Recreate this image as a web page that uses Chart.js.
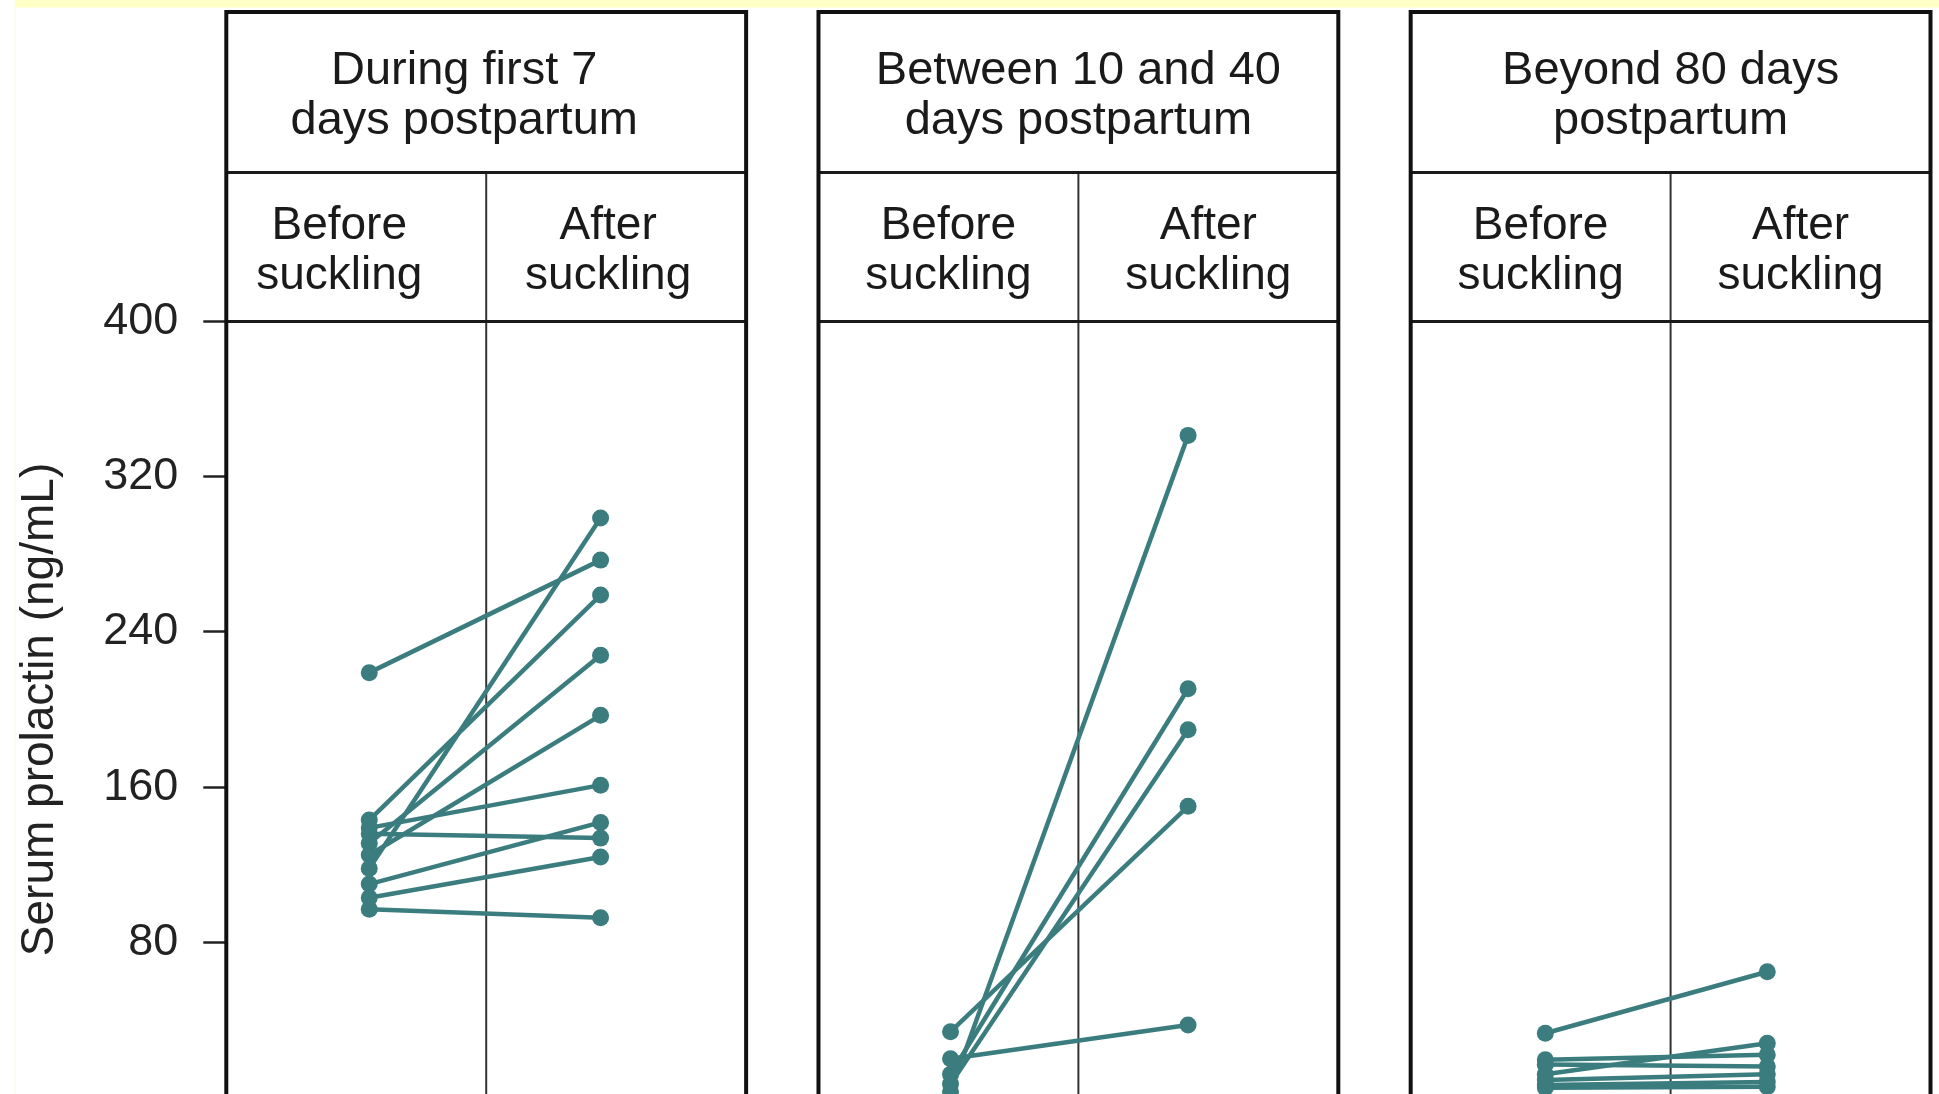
<!DOCTYPE html>
<html>
<head>
<meta charset="utf-8">
<title>Serum prolactin before and after suckling</title>
<script src="https://cdn.jsdelivr.net/npm/chart.js@4.4.1/dist/chart.umd.min.js"></script>
<style>
  html, body { margin: 0; padding: 0; background: #ffffff; overflow: hidden; }
  #wrap { position: relative; width: 1939px; height: 1152px; }
  canvas { display: block; }
</style>
</head>
<body>
<div id="wrap"><canvas id="chart" width="1939" height="1152"></canvas></div>
<script>
// ---- Data: serum prolactin (ng/mL), one pair per subject ----
const panelTitles = [
  ["During first 7", "days postpartum"],
  ["Between 10 and 40", "days postpartum"],
  ["Beyond 80 days", "postpartum"]
];
const columnLabels = [["Before", "suckling"], ["After", "suckling"]];
const yMin = 0;
const yTicks = [80, 160, 240, 320, 400];
const yTitle = "Serum prolactin (ng/mL)";

const first7Before  = [219, 118, 143, 131, 125, 139, 136, 110, 103, 97];
const first7After   = [277, 298.7, 259, 228, 197, 161, 133.7, 141.8, 124, 92.7];

const days10to40Before = [3, 12, 7, 33.9, 20];
const days10to40After  = [341.3, 210.7, 189.6, 150.1, 37.4];

const beyond80Before = [33.1, 19.5, 12, 17, 9, 6.5, 5];
const beyond80After  = [64.8, 22, 28, 16, 12, 8, 5.5];

// ---- Layout of the three panels on one linear x scale ----
// each panel is 1 unit wide; panels repeat every PERIOD units
const PERIOD = 1.1392;
const X_MAX = 2 * PERIOD + 1;
const BEFORE_X = [0.275, 0.254, 0.259];
const AFTER_X  = [0.720, 0.711, 0.686];
// small horizontal nudges (px) of the header text in each panel
const HEAD_SHIFT   = [-22, 0, 0];
const BEFORE_SHIFT = [-17, 0, 0];
const AFTER_SHIFT  = [-8, 0, 0];

const FAMILY = "'Liberation Sans', Arial, Helvetica, sans-serif";
const TEAL = '#3b7d7e';
const INK = '#1a1a1a';

const panels = [
  { before: first7Before, after: first7After },
  { before: days10to40Before, after: days10to40After },
  { before: beyond80Before, after: beyond80After }
];

const datasets = [];
panels.forEach((p, k) => {
  p.before.forEach((b, i) => {
    datasets.push({
      data: [
        { x: k * PERIOD + BEFORE_X[k], y: b },
        { x: k * PERIOD + AFTER_X[k], y: p.after[i] }
      ],
      borderColor: TEAL,
      backgroundColor: TEAL,
      pointBackgroundColor: TEAL,
      pointBorderColor: TEAL,
      borderWidth: 4.5,
      pointRadius: 8.5,
      pointBorderWidth: 0,
      showLine: true,
      tension: 0
    });
  });
});

// Frames, header boxes and header text for each panel
const panelFrames = {
  id: 'panelFrames',
  beforeDraw(chart) {
    const { ctx, width, height } = chart;
    ctx.save();
    ctx.fillStyle = '#ffffff';
    ctx.fillRect(0, 0, width, height);
    ctx.fillStyle = '#fffec4';
    ctx.fillRect(15, 0, width - 15, 7.5);
    ctx.fillStyle = '#fffbe0';
    ctx.fillRect(14.5, 0, 1.5, height);
    ctx.restore();
  },
  beforeDatasetsDraw(chart) {
    const { ctx, scales } = chart;
    const xs = scales.x, ys = scales.y;
    const yTop = 12;
    const yHead = 172.5;
    const yAxisTop = ys.getPixelForValue(ys.max);
    const yBottom = chart.height;
    ctx.save();
    for (let k = 0; k < 3; k++) {
      const x0 = xs.getPixelForValue(k * PERIOD);
      const x1 = xs.getPixelForValue(k * PERIOD + 1);
      const xm = xs.getPixelForValue(k * PERIOD + 0.5);

      // middle divider between "before" and "after"
      ctx.strokeStyle = '#333333';
      ctx.lineWidth = 2;
      ctx.beginPath();
      ctx.moveTo(xm, yHead);
      ctx.lineTo(xm, yBottom);
      ctx.stroke();

      // horizontal rules under the headers
      ctx.strokeStyle = '#1a1a1a';
      ctx.lineWidth = 3;
      ctx.beginPath();
      ctx.moveTo(x0, yHead); ctx.lineTo(x1, yHead);
      ctx.moveTo(x0, yAxisTop); ctx.lineTo(x1, yAxisTop);
      ctx.stroke();

      // outer box
      ctx.strokeStyle = '#111111';
      ctx.lineWidth = 4;
      ctx.beginPath();
      ctx.moveTo(x0, yBottom);
      ctx.lineTo(x0, yTop);
      ctx.lineTo(x1, yTop);
      ctx.lineTo(x1, yBottom);
      ctx.stroke();

      // header text
      ctx.fillStyle = INK;
      ctx.textAlign = 'center';
      ctx.textBaseline = 'alphabetic';
      ctx.font = `47px ${FAMILY}`;
      const hc = (x0 + x1) / 2 + HEAD_SHIFT[k];
      const title = panelTitles[k];
      ctx.fillText(title[0], hc, 83.5);
      ctx.fillText(title[1], hc, 134);

      ctx.font = `46px ${FAMILY}`;
      const bc = (x0 + xm) / 2 + BEFORE_SHIFT[k];
      const ac = (xm + x1) / 2 + AFTER_SHIFT[k];
      ctx.fillText(columnLabels[0][0], bc, 238.5);
      ctx.fillText(columnLabels[0][1], bc, 288.5);
      ctx.fillText(columnLabels[1][0], ac, 238.5);
      ctx.fillText(columnLabels[1][1], ac, 288.5);
    }
    ctx.restore();
  }
};

new Chart(document.getElementById('chart'), {
  type: 'line',
  data: { datasets },
  options: {
    responsive: false,
    animation: false,
    devicePixelRatio: 1,
    layout: { padding: { top: 321.5, bottom: 54.5, left: 0, right: 3.5 } },
    plugins: {
      legend: { display: false },
      tooltip: { enabled: false },
      title: { display: false }
    },
    scales: {
      x: { type: 'linear', min: 0, max: X_MAX, display: false },
      y: {
        min: yMin,
        max: yTicks[yTicks.length - 1],
        afterFit(scale) { scale.width = 226.3; },
        afterBuildTicks(scale) { scale.ticks = yTicks.map(v => ({ value: v })); },
        ticks: {
          font: { family: FAMILY, size: 45 },
          color: '#222222',
          padding: 25
        },
        grid: {
          drawOnChartArea: false,
          drawTicks: true,
          tickLength: 23,
          tickWidth: 2.5,
          tickColor: '#222222'
        },
        border: { display: false },
        title: {
          display: true,
          text: yTitle,
          font: { family: FAMILY, size: 46 },
          color: '#222222',
          padding: { top: 13, bottom: 0 }
        }
      }
    }
  },
  plugins: [panelFrames]
});
</script>
</body>
</html>
